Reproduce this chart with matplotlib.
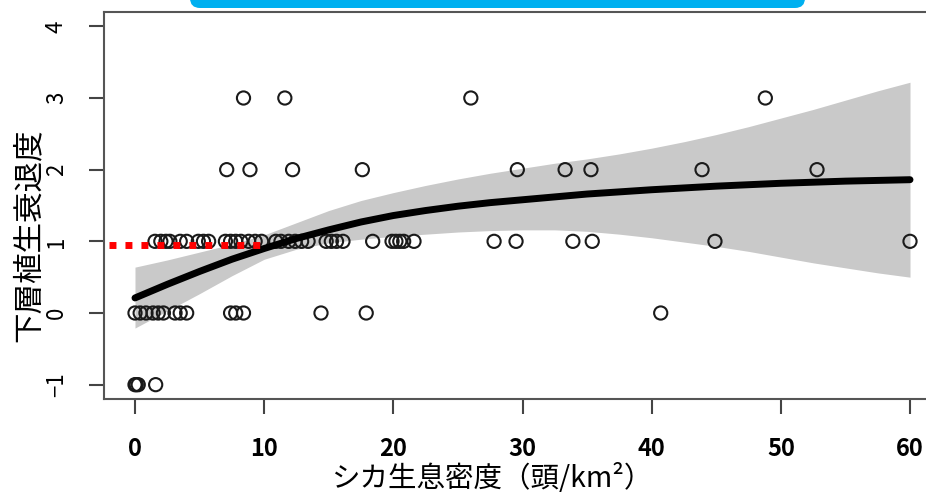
import numpy as np
import matplotlib
matplotlib.use("Agg")
import matplotlib.pyplot as plt
from matplotlib.patches import FancyBboxPatch

plt.rcParams['font.family'] = ['Noto Sans CJK JP', 'DejaVu Sans']

# observed points (shika density, vegetation decline score)
x_m1 = [0.0, 0.1, 0.25, 1.6]
x_0 = [0.0, 0.4, 0.85, 1.4, 1.8, 2.2, 3.1, 3.5, 4.0, 7.4, 7.8, 8.4,
       14.4, 17.9, 40.7]
x_1 = [1.55, 2.0, 2.4, 2.7, 3.5, 4.0, 4.9, 5.3, 5.7, 7.0, 7.4, 7.8, 8.2,
       8.8, 9.3, 9.8, 10.9, 11.3, 11.9, 12.4, 12.9, 13.4, 14.8, 15.2, 15.6,
       16.1, 18.4, 19.9, 20.2, 20.5, 20.8, 21.6, 27.8, 29.5, 33.9, 35.4,
       44.9, 60.0]
x_2 = [7.1, 8.9, 12.2, 17.6, 29.6, 33.3, 35.3, 43.9, 52.8]
x_3 = [8.4, 11.6, 26.0, 48.8]

fit_x = [0, 2.5, 5, 7.5, 10, 12.5, 15, 17.5, 20, 22.5, 25, 27.5, 30, 32.5, 35,
         37.5, 40, 42.5, 45, 47.5, 50, 52.5, 55, 57.5, 60]
fit_y = [0.21, 0.40, 0.58, 0.75, 0.90, 1.04, 1.16, 1.27, 1.36, 1.43, 1.49, 1.54,
         1.58, 1.62, 1.66, 1.69, 1.72, 1.745, 1.77, 1.79, 1.81, 1.825, 1.84, 1.85, 1.86]
band_hi = [0.64, 0.74, 0.85, 0.96, 1.09, 1.26, 1.43, 1.57, 1.68, 1.78, 1.87, 1.95,
           2.02, 2.09, 2.15, 2.22, 2.30, 2.39, 2.49, 2.60, 2.72, 2.84, 2.97, 3.10, 3.22]
band_lo = [-0.21, 0.03, 0.27, 0.52, 0.75, 0.89, 0.98, 1.03, 1.07, 1.10, 1.13, 1.15,
           1.16, 1.16, 1.14, 1.10, 1.05, 0.99, 0.93, 0.86, 0.78, 0.70, 0.63, 0.56, 0.50]

# red reference line
ref_x = [-2.0, 10.0]
ref_y = [0.95, 0.95]

xticks = [0, 10, 20, 30, 40, 50, 60]
yticks = [-1, 0, 1, 2, 3, 4]

fig = plt.figure(figsize=(9.26, 4.96), dpi=100)
ax = fig.add_axes([104 / 926, 97 / 496, 837 / 926, 387 / 496])

ax.fill_between(fit_x, band_lo, band_hi, color='#c9c9c9', lw=0, zorder=1)

xs = x_m1 + x_0 + x_1 + x_2 + x_3
ys = [-1] * len(x_m1) + [0] * len(x_0) + [1] * len(x_1) + [2] * len(x_2) + [3] * len(x_3)
ax.scatter(xs, ys, s=90, facecolors='none', edgecolors='#1a1a1a', linewidths=1.5, zorder=2)

ax.plot(fit_x, fit_y, color='black', lw=5, solid_capstyle='round', zorder=3)
ax.plot(ref_x, ref_y, color='#ff0000', lw=5, linestyle=(0, (1, 1.3)), zorder=4)

ax.set_xlim(-2.4, 62.4)
ax.set_ylim(-1.2, 4.2)
ax.set_xticks(xticks)
ax.set_yticks(yticks)
ax.tick_params(axis='x', length=11, width=1.5, color='#444444', pad=16, labelsize=17)
ax.tick_params(axis='y', length=11, width=1.5, color='#444444', pad=15, labelsize=16,
               labelrotation=90)
for lab in ax.get_xticklabels():
    lab.set_fontweight('bold')
for lab in ax.get_yticklabels():
    lab.set_va('center')
for sp in ax.spines.values():
    sp.set_linewidth(1.5)
    sp.set_color('#555555')

fig.text(29 / 926, 1 - 235 / 496, '下層植生衰退度', rotation=90, ha='center', va='center', fontsize=22)
fig.text(493 / 926, 1 - 479 / 496, 'シカ生息密度（頭/km²）', ha='center', va='center', fontsize=20.5)

box = FancyBboxPatch((1.90, 4.88), 6.15, 0.4, boxstyle='round,pad=0,rounding_size=0.1',
                     transform=fig.dpi_scale_trans, color='#00b0f0', lw=0)
fig.patches.append(box)

plt.savefig('out.png', dpi=100)
